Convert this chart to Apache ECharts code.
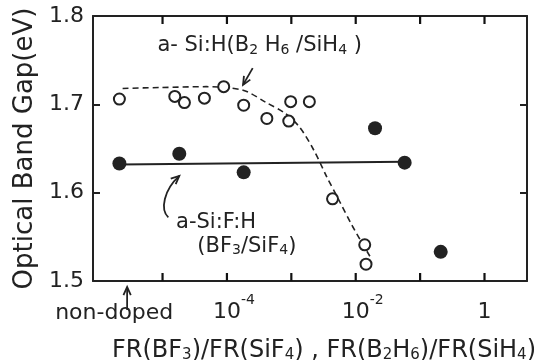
<!DOCTYPE html>
<html>
<head>
<meta charset="utf-8">
<script src="https://cdn.jsdelivr.net/npm/echarts@6/dist/echarts.min.js"></script>
<style>
html,body{margin:0;padding:0;background:#fff}
#bandgap{width:548px;height:360px}
</style>
</head>
<body>
<div id="bandgap"></div>
<script>
// x is log10 of the flow ratio, "non-doped" samples are parked left of 10^-5
var NON_DOPED = -5.67;

// a-Si:H (B2H6/SiH4) - open circles
var siH_x   = [NON_DOPED, -4.81, -4.66, -4.35, -4.05, -3.74, -3.38, -3.04, -3.01, -2.72, -2.36, -1.86, -1.84];
var siH_gap = [1.706, 1.709, 1.702, 1.707, 1.720, 1.699, 1.684, 1.681, 1.703, 1.703, 1.593, 1.541, 1.519];

// a-Si:F:H (BF3/SiF4) - filled circles
var siF_x   = [NON_DOPED, -4.74, -3.74, -1.70, -1.24, -0.68];
var siF_gap = [1.633, 1.644, 1.623, 1.673, 1.634, 1.533];

// hand drawn guide lines
var dashFit_x   = [-5.62, -5.05, -4.32, -3.75, -3.39, -3.10, -2.87, -2.65, -2.45, -2.25, -2.05, -1.78];
var dashFit_gap = [1.718, 1.719, 1.720, 1.716, 1.702, 1.690, 1.674, 1.648, 1.618, 1.590, 1.562, 1.528];
var solidFit_x   = [NON_DOPED, -1.24];
var solidFit_gap = [1.632, 1.635];

var xTicks = [-5, -4, -3, -2, -1, 0];
var xLabelPos  = [-5.75, -4, -2, 0];
var xLabelText = ['{n|non-doped}', '{pad|-4}{b|10}{sup|-4}', '{pad|-2}{b|10}{sup|-2}', '{b|1}'];

var INK = '#222';
var FONT = 'DejaVu Sans';
var X_MIN = -6.08, X_MAX = 0.66;
var Y_MIN = 1.5, Y_MAX = 1.8;

function zip(a, b) {
	return a.map(function (v, i) { return [v, b[i]]; });
}

var chart = echarts.init(document.getElementById('bandgap'));

var tickStyle = { show: true, inside: true, length: 7, lineStyle: { color: INK, width: 2 } };
var lineStyle = { show: true, onZero: false, lineStyle: { color: INK, width: 2 } };

// decade tick marks on the bottom and top frame (inward)
function tickSeries(yVal, offset) {
	return {
		type: 'scatter',
		data: xTicks.map(function (t) { return [t, yVal]; }),
		symbol: 'rect',
		symbolSize: [2.2, 8],
		symbolOffset: [0, offset],
		itemStyle: { color: '#111', opacity: 1 },
		clip: false,
		silent: true,
		z: 10
	};
}

var option = {
	animation: false,
	backgroundColor: '#fff',
	grid: { left: 93, right: 21, top: 16, bottom: 79, containLabel: false, outerBoundsMode: 'none' },
	xAxis: [
		{
			type: 'value',
			min: X_MIN,
			max: X_MAX,
			position: 'bottom',
			splitLine: { show: false },
			axisLine: lineStyle,
			axisTick: { show: false },
			axisLabel: {
				customValues: xLabelPos,
				margin: 12,
				color: INK,
				fontFamily: FONT,
				fontSize: 22,
				formatter: function (v) {
					var best = 0;
					for (var i = 1; i < xLabelPos.length; i++) {
						if (Math.abs(xLabelPos[i] - v) < Math.abs(xLabelPos[best] - v)) best = i;
					}
					return xLabelText[best];
				},
				rich: {
					n: { fontSize: 22, fontFamily: FONT, color: INK, lineHeight: 30, padding: [10, 0, 0, 0] },
					b: { fontSize: 22, fontFamily: FONT, color: INK, lineHeight: 30, verticalAlign: 'bottom' },
					sup: { fontSize: 14, fontFamily: FONT, color: INK, lineHeight: 14, verticalAlign: 'top' },
					pad: { fontSize: 14, fontFamily: FONT, color: 'transparent', lineHeight: 14, verticalAlign: 'top' }
				}
			},
			name: '{t|FR(BF}{s|3}{t|)/FR(SiF}{s|4}{t|) , FR(B}{s|2}{t|H}{s|6}{t|)/FR(SiH}{s|4}{t|)}',
			nameLocation: 'middle',
			nameGap: 58,
			nameTextStyle: {
				color: INK,
				fontFamily: FONT,
				fontSize: 24,
				padding: [0, 0, 0, 28],
				rich: {
					t: { fontSize: 24, fontFamily: FONT, color: INK, lineHeight: 24, verticalAlign: 'top' },
					s: { fontSize: 15, fontFamily: FONT, color: INK, lineHeight: 15, verticalAlign: 'bottom', padding: [12, 0, 0, 0] }
				}
			}
		},
		{
			type: 'value',
			min: X_MIN,
			max: X_MAX,
			position: 'top',
			splitLine: { show: false },
			axisLine: lineStyle,
			axisTick: { show: false },
			axisLabel: { show: false }
		}
	],
	yAxis: [
		{
			type: 'value',
			min: Y_MIN,
			max: Y_MAX,
			interval: 0.1,
			position: 'left',
			splitLine: { show: false },
			axisLine: lineStyle,
			axisTick: tickStyle,
			axisLabel: {
				margin: 9,
				color: INK,
				fontFamily: FONT,
				fontSize: 22,
				formatter: function (v) { return v.toFixed(1); }
			},
			name: 'Optical Band Gap(eV)',
			nameLocation: 'middle',
			nameRotate: 90,
			nameGap: 49,
			nameTextStyle: { color: INK, fontFamily: FONT, fontSize: 26 }
		},
		{
			type: 'value',
			min: Y_MIN,
			max: Y_MAX,
			interval: 0.1,
			position: 'right',
			splitLine: { show: false },
			axisLine: lineStyle,
			axisTick: tickStyle,
			axisLabel: { show: false }
		}
	],
	series: [
		tickSeries(Y_MIN, -4),
		tickSeries(Y_MAX, 4),
		{
			name: 'B2H6 guide',
			type: 'line',
			data: zip(dashFit_x, dashFit_gap),
			smooth: 0.3,
			showSymbol: false,
			symbol: 'none',
			lineStyle: { color: INK, width: 1.6, type: [6, 4] },
			z: 1
		},
		{
			name: 'BF3 guide',
			type: 'line',
			data: zip(solidFit_x, solidFit_gap),
			symbol: 'none',
			lineStyle: { color: INK, width: 2 },
			z: 1
		},
		{
			name: 'a-Si:H',
			type: 'scatter',
			data: zip(siH_x, siH_gap),
			symbol: 'circle',
			symbolSize: 11,
			itemStyle: { color: '#fff', borderColor: INK, borderWidth: 2, opacity: 1 },
			z: 3
		},
		{
			name: 'a-Si:F:H',
			type: 'scatter',
			data: zip(siF_x, siF_gap),
			symbol: 'circle',
			symbolSize: 14,
			itemStyle: { color: INK, opacity: 1 },
			z: 3
		}
	]
};

chart.setOption(option);

// ---- annotations, placed in data units ----
var noteB2H6 = [-5.08, 1.766];
var noteSiF  = [-4.79, 1.566];
var noteBF3  = [-4.46, 1.539];
var arrowB2H6 = [[-3.60, 1.741], [-3.75, 1.722]];
var arrowSiF  = [[-4.91, 1.572], [-5.04, 1.581], [-4.98, 1.603], [-4.74, 1.619]];
var arrowNonDoped = -5.55;

function px(p) { return chart.convertToPixel({ gridIndex: 0 }, p); }

function head(tip, from) {
	var a = Math.atan2(tip[1] - from[1], tip[0] - from[0]);
	var len = 9, w = 0.42;
	return [
		[tip[0] - len * Math.cos(a - w), tip[1] - len * Math.sin(a - w)],
		tip,
		[tip[0] - len * Math.cos(a + w), tip[1] - len * Math.sin(a + w)]
	];
}

var stroke = { stroke: INK, lineWidth: 1.8, fill: null };
var g = [];

var subRich = {
	t: { fontSize: 21, fontFamily: FONT, fill: INK, lineHeight: 22, verticalAlign: 'top' },
	s: { fontSize: 14, fontFamily: FONT, fill: INK, lineHeight: 14, verticalAlign: 'bottom', padding: [11, 0, 0, 0] }
};

function text(pos, str) {
	var p = px(pos);
	g.push({
		type: 'text',
		x: p[0], y: p[1],
		style: { text: str, fill: INK, font: '21px "' + FONT + '"', verticalAlign: 'middle', rich: subRich }
	});
}

text(noteB2H6, '{t|a- Si:H(B}{s|2}{t| H}{s|6}{t| /SiH}{s|4}{t| )}');
text(noteSiF, '{t|a-Si:F:H}');
text(noteBF3, '{t|(BF}{s|3}{t|/SiF}{s|4}{t|)}');

var a0 = px(arrowB2H6[0]), a1 = px(arrowB2H6[1]);
g.push({ type: 'polyline', shape: { points: [a0, a1] }, style: stroke });
g.push({ type: 'polyline', shape: { points: head(a1, a0) }, style: stroke });

var c = arrowSiF.map(px);
g.push({
	type: 'bezierCurve',
	shape: { x1: c[0][0], y1: c[0][1], cpx1: c[1][0], cpy1: c[1][1], cpx2: c[2][0], cpy2: c[2][1], x2: c[3][0], y2: c[3][1] },
	style: stroke
});
g.push({ type: 'polyline', shape: { points: head(c[3], c[2]) }, style: stroke });

var base = px([arrowNonDoped, Y_MIN]);
var nTip = [base[0], base[1] + 6], nTail = [base[0], base[1] + 29];
g.push({ type: 'polyline', shape: { points: [nTail, nTip] }, style: stroke });
g.push({ type: 'polyline', shape: { points: head(nTip, nTail) }, style: stroke });

chart.setOption({ graphic: g });
</script>
</body>
</html>
